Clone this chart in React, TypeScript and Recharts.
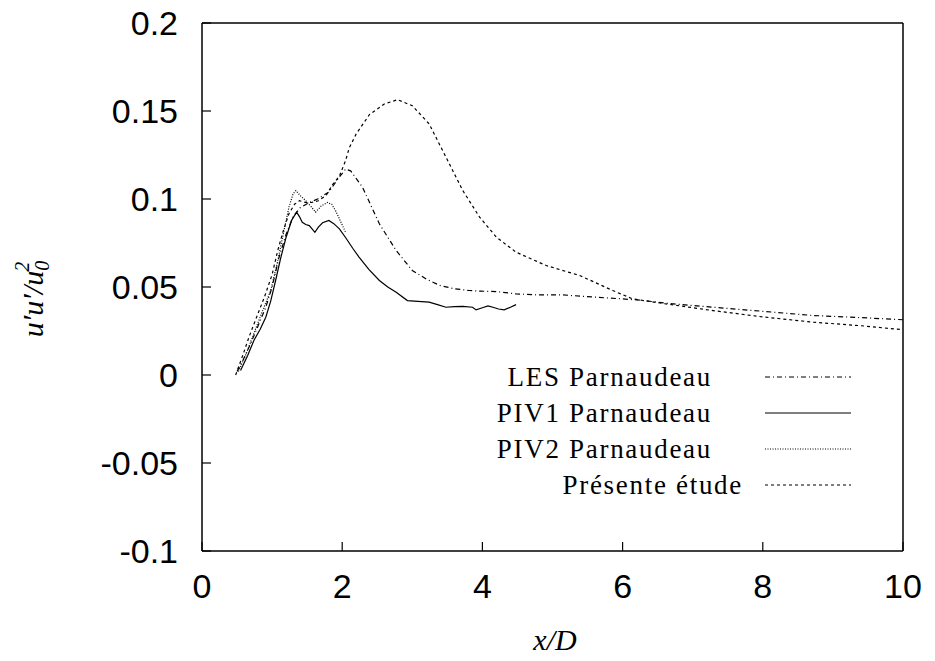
import { LineChart, Line, XAxis, YAxis, Legend } from "recharts";

// x/D positions and u'u'/u0^2 values
const lesX = [0.5, 0.58, 0.67, 0.78, 0.91, 1.0, 1.1, 1.2, 1.3, 1.4, 1.53, 1.65, 1.81, 1.95, 2.05, 2.12, 2.29, 2.53, 2.77, 3.0, 3.2, 3.39, 3.6, 3.81, 4.0, 4.2, 4.48, 4.8, 5.15, 5.62, 6.2, 6.7, 7.29, 8.0, 8.72, 9.4, 10.0];
const lesY = [0.002, 0.008, 0.0158, 0.026, 0.0385, 0.05, 0.067, 0.08, 0.09, 0.095, 0.098, 0.1, 0.104, 0.112, 0.117, 0.116, 0.1067, 0.0859, 0.0707, 0.0594, 0.0545, 0.0509, 0.049, 0.048, 0.0476, 0.0474, 0.0461, 0.0455, 0.0455, 0.0442, 0.0427, 0.0405, 0.0385, 0.0362, 0.0338, 0.0326, 0.0314];

const piv1X = [0.55, 0.65, 0.74, 0.83, 0.91, 0.98, 1.05, 1.12, 1.2, 1.28, 1.35, 1.39, 1.43, 1.48, 1.53, 1.57, 1.61, 1.66, 1.72, 1.81, 1.88, 1.96, 2.05, 2.15, 2.24, 2.38, 2.53, 2.65, 2.77, 2.93, 3.08, 3.24, 3.36, 3.48, 3.6, 3.72, 3.86, 3.91, 4.0, 4.08, 4.15, 4.23, 4.31, 4.4, 4.48];
const piv1Y = [0.0026, 0.011, 0.0196, 0.026, 0.0328, 0.042, 0.0537, 0.066, 0.0783, 0.088, 0.0925, 0.09, 0.0868, 0.0855, 0.0849, 0.083, 0.0811, 0.084, 0.0865, 0.0878, 0.086, 0.083, 0.078, 0.072, 0.067, 0.06, 0.0537, 0.05, 0.047, 0.0423, 0.0418, 0.0414, 0.04, 0.0385, 0.0388, 0.039, 0.0385, 0.037, 0.0382, 0.0393, 0.0385, 0.0375, 0.037, 0.0385, 0.04];

const piv2X = [0.52, 0.62, 0.72, 0.85, 0.98, 1.07, 1.15, 1.24, 1.3, 1.34, 1.4, 1.48, 1.55, 1.62, 1.7, 1.79, 1.85, 1.91, 1.98, 2.05];
const piv2Y = [0.002, 0.011, 0.0215, 0.035, 0.048, 0.063, 0.0783, 0.0953, 0.103, 0.1048, 0.102, 0.099, 0.096, 0.0925, 0.096, 0.098, 0.097, 0.093, 0.087, 0.081];

const presX = [0.48, 0.58, 0.67, 0.78, 0.89, 1.0, 1.08, 1.16, 1.24, 1.32, 1.39, 1.48, 1.56, 1.66, 1.77, 1.86, 1.96, 2.05, 2.1, 2.2, 2.39, 2.6, 2.79, 3.0, 3.24, 3.48, 3.72, 3.96, 4.2, 4.48, 4.91, 5.39, 5.86, 6.14, 6.6, 7.29, 8.0, 8.72, 9.4, 10.0];
const presY = [0, 0.011, 0.0215, 0.033, 0.0442, 0.057, 0.0707, 0.082, 0.0916, 0.097, 0.099, 0.098, 0.098, 0.099, 0.102, 0.108, 0.113, 0.122, 0.129, 0.137, 0.148, 0.154, 0.1564, 0.153, 0.1427, 0.1238, 0.1048, 0.0897, 0.0783, 0.0698, 0.0622, 0.0565, 0.048, 0.0433, 0.0405, 0.0366, 0.033, 0.03, 0.028, 0.0257];

const xTicks = [0, 2, 4, 6, 8, 10];
const yTicks = [-0.1, -0.05, 0, 0.05, 0.1, 0.15, 0.2];

const zip = (xs: number[], ys: number[]) => xs.map((x, i) => ({ x, y: ys[i] }));

const series = [
  { name: "LES Parnaudeau", data: zip(lesX, lesY), dash: "5 3 1 3" },
  { name: "PIV1 Parnaudeau", data: zip(piv1X, piv1Y), dash: undefined },
  { name: "PIV2 Parnaudeau", data: zip(piv2X, piv2Y), dash: "1 1.5" },
  { name: "Présente étude", data: zip(presX, presY), dash: "3 3" },
];
// latex-set legend keys don't all end at the same spot
const legendPad = [31, 31, 31, 0];

const tickFont = { fill: "#000", fontSize: 34, fontFamily: "'Liberation Sans', Arial, sans-serif" };
const serif = "'Liberation Serif', 'DejaVu Serif', 'Times New Roman', Times, 'Noto Serif', FreeSerif, serif";

function LegendBox() {
  return (
    <div style={{ width: 470 }}>
      {series.map((s, i) => (
        <div key={s.name} style={{ height: 36, display: "flex", alignItems: "center" }}>
          <span
            style={{
              width: 343 - legendPad[i], paddingRight: legendPad[i], textAlign: "right",
              fontFamily: serif, fontSize: 27, letterSpacing: 1.7, color: "#000", whiteSpace: "nowrap",
            }}
          >
            {s.name}
          </span>
          <svg width={88} height={6} style={{ marginLeft: 22 }}>
            <line x1={0} y1={3} x2={86} y2={3} stroke="#000" strokeWidth={1.2} strokeDasharray={s.dash} />
          </svg>
        </div>
      ))}
    </div>
  );
}

function YLabel() {
  return (
    <text
      x={43} y={299} transform="rotate(-90, 43, 299)" textAnchor="middle"
      fontFamily={serif} fontStyle="italic" fontSize={30} fill="#000"
    >
      u′u′/u
      <tspan fontSize={20} dy={6}>0</tspan>
      <tspan fontSize={20} dx={-11} dy={-20}>2</tspan>
    </text>
  );
}

function XLabel() {
  return (
    <text x={555} y={650} textAnchor="middle" fontFamily={serif} fontStyle="italic" fontSize={30} fill="#000">
      x/D
    </text>
  );
}

export default function App() {
  return (
    <div style={{ position: "absolute", left: 0, top: 0, background: "#fff" }}>
      <LineChart width={935} height={661} margin={{ top: 22, right: 0, bottom: 0, left: 0 }}>
        <XAxis
          type="number" dataKey="x" domain={[0, 10]} ticks={xTicks} allowDataOverflow
          height={110} tickSize={-9} tickMargin={32} tick={tickFont}
          axisLine={{ stroke: "#000", strokeWidth: 1.5 }} tickLine={{ stroke: "#000", strokeWidth: 1.2 }}
          label={{ content: XLabel }}
        />
        <XAxis
          xAxisId="top" orientation="top" type="number" dataKey="x" domain={[0, 10]} ticks={xTicks}
          allowDataOverflow height={1} tickSize={-9} tick={false}
          axisLine={{ stroke: "#000", strokeWidth: 1.5 }} tickLine={{ stroke: "#000", strokeWidth: 1.2 }}
        />
        <YAxis
          type="number" domain={[-0.1, 0.2]} ticks={yTicks} allowDataOverflow
          width={202} tickSize={-9} tickMargin={33} tick={tickFont}
          axisLine={{ stroke: "#000", strokeWidth: 1.5 }} tickLine={{ stroke: "#000", strokeWidth: 1.2 }}
          label={{ content: YLabel }}
        />
        <YAxis
          yAxisId="right" orientation="right" type="number" domain={[-0.1, 0.2]} ticks={yTicks}
          allowDataOverflow width={32} tickSize={-9} tick={false}
          axisLine={{ stroke: "#000", strokeWidth: 1.5 }} tickLine={{ stroke: "#000", strokeWidth: 1.2 }}
        />
        {series.map((s) => (
          <Line
            key={s.name}
            name={s.name}
            data={s.data}
            dataKey="y"
            type="linear"
            stroke="#000"
            strokeWidth={1.2}
            strokeDasharray={s.dash}
            dot={false}
            activeDot={false}
            isAnimationActive={false}
          />
        ))}
        <Legend
          layout="vertical" align="center" verticalAlign="middle"
          wrapperStyle={{ position: "absolute", left: 400, top: 359, width: 470 }}
          content={() => <LegendBox />}
        />
      </LineChart>
    </div>
  );
}
